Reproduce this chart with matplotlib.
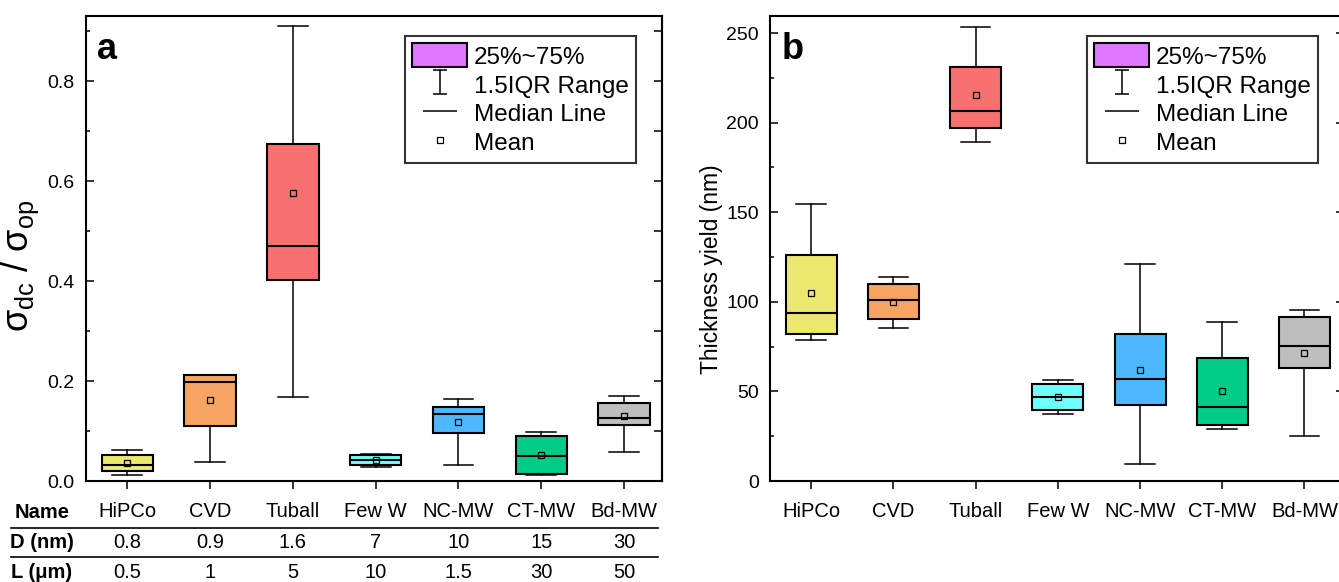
import numpy as np
import matplotlib
matplotlib.use('Agg')
import matplotlib.pyplot as plt
import matplotlib.transforms as mtransforms
from matplotlib.patches import Patch
from matplotlib.lines import Line2D
from matplotlib.path import Path
from matplotlib.ticker import MultipleLocator, FormatStrFormatter

plt.rcParams['font.family'] = ['Liberation Sans', 'DejaVu Sans']

# categories and table rows
names = ['HiPCo', 'CVD', 'Tuball', 'Few W', 'NC-MW', 'CT-MW', 'Bd-MW']
diam = ['0.8', '0.9', '1.6', '7', '10', '15', '30']
length = ['0.5', '1', '5', '10', '1.5', '30', '50']
colors = ['#ECE86E', '#F5A462', '#F87171', '#70FFFF', '#4DB8FF', '#00CC88', '#BEBEBE']

# panel a: sigma_dc / sigma_op
a_lo = [0.012, 0.038, 0.169, 0.029, 0.033, 0.012, 0.059]
a_q1 = [0.021, 0.111, 0.402, 0.032, 0.096, 0.014, 0.112]
a_med = [0.033, 0.199, 0.471, 0.042, 0.135, 0.050, 0.127]
a_q3 = [0.052, 0.213, 0.675, 0.053, 0.148, 0.091, 0.157]
a_hi = [0.062, 0.213, 0.910, 0.055, 0.164, 0.099, 0.170]
a_mean = [0.036, 0.162, 0.576, 0.042, 0.119, 0.053, 0.131]

# panel b: thickness yield (nm)
b_lo = [78.9, 85.2, 189.0, 37.6, 9.7, 29.2, 25.3]
b_q1 = [82.2, 90.6, 197.2, 39.8, 42.6, 31.3, 63.1]
b_med = [93.7, 101.0, 206.6, 46.9, 56.7, 41.3, 75.3]
b_q3 = [126.1, 109.9, 230.8, 54.0, 82.2, 68.8, 91.7]
b_hi = [154.6, 113.7, 253.5, 56.5, 121.3, 88.5, 95.4]
b_mean = [104.9, 100.1, 215.4, 46.9, 61.9, 50.0, 71.4]


def make_stats(lo, q1, med, q3, hi, mean):
    stats = []
    for i in range(len(lo)):
        stats.append(dict(whislo=lo[i], q1=q1[i], med=med[i], q3=q3[i],
                          whishi=hi[i], mean=mean[i], fliers=[]))
    return stats


def draw_boxes(ax, stats):
    pos = np.arange(1, len(stats) + 1)
    bp = ax.bxp(stats, positions=pos, widths=0.62, capwidths=0.36,
                patch_artist=True, showmeans=True, showfliers=False,
                boxprops=dict(linewidth=1.5, edgecolor='k'),
                whiskerprops=dict(linewidth=1.1, color='k'),
                capprops=dict(linewidth=1.1, color='k'),
                medianprops=dict(linewidth=1.5, color='k'),
                meanprops=dict(marker='s', markersize=5, markerfacecolor='none',
                               markeredgecolor='k', markeredgewidth=0.9))
    for box, c in zip(bp['boxes'], colors):
        box.set_facecolor(c)
    ax.set_xticks(pos)
    ax.set_xticklabels(names)


def add_legend(ax):
    ibeam = Path([(-0.6, 1), (0.6, 1), (0, 1), (0, -1), (-0.6, -1), (0.6, -1)],
                 [Path.MOVETO, Path.LINETO, Path.MOVETO, Path.LINETO, Path.MOVETO, Path.LINETO])
    hline = Path([(-0.5, 0), (0.5, 0)], [Path.MOVETO, Path.LINETO])
    handles = [
        Patch(facecolor='#DD77FF', edgecolor='k', linewidth=1.5),
        Line2D([], [], marker=ibeam, linestyle='none', markersize=17,
               markeredgewidth=1.1, color='k'),
        Line2D([], [], marker=hline, linestyle='none', markersize=24,
               markeredgewidth=1.1, color='k'),
        Line2D([], [], marker='s', linestyle='none', markersize=5,
               markerfacecolor='none', markeredgecolor='k', markeredgewidth=0.9),
    ]
    labels = ['25%~75%', '1.5IQR Range', 'Median Line', 'Mean']
    leg = ax.legend(handles, labels, loc='upper right', bbox_to_anchor=(0.955, 0.957),
                    borderaxespad=0, fontsize=17.5, frameon=True, fancybox=False,
                    edgecolor='k', handlelength=2.25, handleheight=1.15,
                    handletextpad=0.28, borderpad=0.3, labelspacing=0.15)
    leg.get_frame().set_linewidth(1.5)


def style_axis(ax):
    for s in ax.spines.values():
        s.set_linewidth(1.5)
    ax.tick_params(axis='y', which='major', direction='in', length=6, width=1.1,
                   labelsize=14, pad=8)
    ax.tick_params(axis='y', which='minor', direction='in', length=3, width=1.1)
    ax.tick_params(axis='x', which='major', direction='out', length=6, width=1.1,
                   labelsize=14.5, pad=9)
    ax.tick_params(axis='x', which='minor', bottom=False)


fig = plt.figure(figsize=(13.39, 5.82), dpi=100)
ax1 = fig.add_axes([0.0642, 0.1735, 0.4302, 0.799])
ax2 = fig.add_axes([0.5751, 0.1735, 0.4286, 0.799])

# panel a
draw_boxes(ax1, make_stats(a_lo, a_q1, a_med, a_q3, a_hi, a_mean))
ax1.set_xlim(0.5, 7.46)
ax1.set_ylim(0, 0.93)
ax1.yaxis.set_major_locator(MultipleLocator(0.2))
ax1.yaxis.set_minor_locator(MultipleLocator(0.1))
ax1.yaxis.set_major_formatter(FormatStrFormatter('%.1f'))
style_axis(ax1)
sec = ax1.secondary_yaxis('right')
sec.set_yticks(np.arange(0, 0.95, 0.1))
sec.tick_params(direction='in', length=6, width=1.1, labelright=False)
sec.spines['right'].set_linewidth(1.5)
ax1.set_ylabel('$\\mathregular{σ_{dc}}$ / $\\mathregular{σ_{op}}$', fontsize=26)
ax1.yaxis.set_label_coords(-0.078, 0.462)
ax1.text(0.02, 0.965, 'a', transform=ax1.transAxes, fontsize=26, fontweight='bold',
         va='top', ha='left')
add_legend(ax1)

# panel b
draw_boxes(ax2, make_stats(b_lo, b_q1, b_med, b_q3, b_hi, b_mean))
ax2.set_xlim(0.5, 7.48)
ax2.set_ylim(0, 259.5)
ax2.yaxis.set_major_locator(MultipleLocator(50))
ax2.yaxis.set_minor_locator(MultipleLocator(25))
style_axis(ax2)
ax2.tick_params(axis='y', which='major', right=True)
ax2.set_ylabel('Thickness yield (nm)', fontsize=16.5)
ax2.yaxis.set_label_coords(-0.082, 0.455)
ax2.text(0.02, 0.965, 'b', transform=ax2.transAxes, fontsize=26, fontweight='bold',
         va='top', ha='left')
add_legend(ax2)

# table below panel a
H = 582.0
W = 1339.0
blend = mtransforms.blended_transform_factory(ax1.transData, fig.transFigure)
rows = [('Name', 513), ('D (nm)', 543), ('L (\u03bcm)', 573)]
for label, ypx in rows:
    fig.text(42 / W, 1 - ypx / H, label, fontsize=14.5, fontweight='bold',
             ha='center', va='center')
for i in range(len(names)):
    fig.text(i + 1, 1 - 543 / H, diam[i], transform=blend, fontsize=14.5,
             ha='center', va='center')
    fig.text(i + 1, 1 - 573 / H, length[i], transform=blend, fontsize=14.5,
             ha='center', va='center')
for ypx in [528, 557]:
    fig.add_artist(Line2D([11 / W, 658 / W], [1 - ypx / H, 1 - ypx / H],
                          color='k', linewidth=1.2, transform=fig.transFigure))

fig.savefig('out.png', dpi=100)
